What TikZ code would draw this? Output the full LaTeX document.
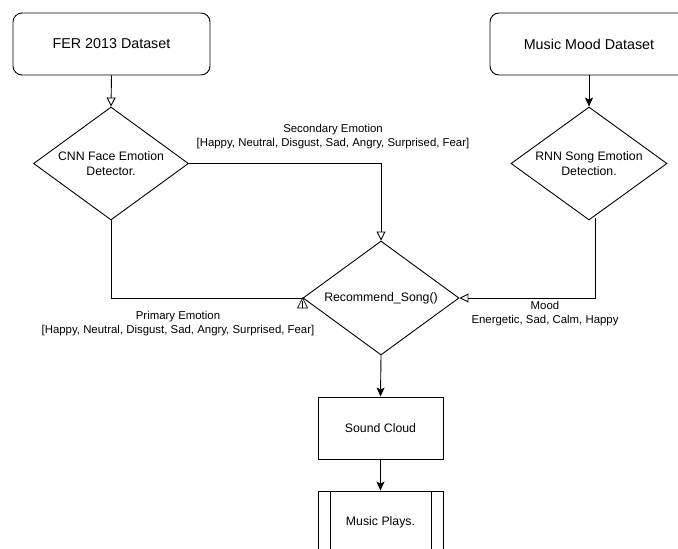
\documentclass[tikz,border=0pt]{standalone}
\usepackage{fontspec}
\setmainfont{Liberation Sans}
\usetikzlibrary{shapes.geometric,arrows.meta,calc}
\begin{document}
\begin{tikzpicture}[x=1pt,y=-1pt,
  line width=0.9pt,
  every node/.style={inner sep=0pt},
  title/.style={draw, rounded corners=9pt, minimum width=197pt, minimum height=62pt, font=\fontsize{14.3}{17}\selectfont},
  dia/.style={draw, diamond, aspect=1.38, minimum width=156pt, minimum height=113pt, align=center, font=\fontsize{12.3}{15}\selectfont},
  procbox/.style={draw, minimum width=125pt, minimum height=62pt, font=\fontsize{12.3}{15}\selectfont},
  lbl/.style={align=center, font=\fontsize{11.4}{14}\selectfont},
  openarrow/.style={-{Triangle[open,width=9pt,length=9pt]}},
  solidarrow/.style={-{Stealth[width=8pt,length=9pt,inset=2pt]}}
]
\useasboundingbox (0,0) rectangle (678,549);
\clip (0,0) rectangle (678,549);

\node[title] (fer) at (111.5,44) {FER 2013 Dataset};
\node[title, minimum width=198pt] (music) at (589,44) {Music Mood Dataset};

\node[dia, minimum width=155pt] (cnn) at (111,163.5) {CNN Face Emotion\\Detector.};
\node[dia] (rnn) at (589,163.5) {RNN Song Emotion\\Detection.};
\node[dia, minimum height=114pt] (rec) at (381,298) {Recommend\_Song()};

\node[procbox] (sound) at (380.5,428) {Sound Cloud};
\node[procbox] (plays) at (380.5,522) {Music Plays.};
\draw ($(plays.north west)+(13,0)$) -- ($(plays.south west)+(13,0)$);
\draw ($(plays.north east)+(-12,0)$) -- ($(plays.south east)+(-12,0)$);

\draw[openarrow] (fer.south) -- (cnn.north);
\draw[solidarrow] (music.south) -- (rnn.north);

\draw[openarrow] (cnn.east) -| (rec.north);
\draw (cnn.south) |- (rec.west);
\draw[line width=0.7pt] (rec.west) -- ++(-5,10) -- ++(10,0) -- cycle;
\draw[line width=0.7pt] ($(rec.west)+(0,3)$) -- ++(0,7);

\coordinate (rnnout) at (595,217.5);
\draw[openarrow] (rnnout) |- (rec.east);

\draw[solidarrow] (rec.south) -- (sound.north);
\draw[solidarrow] (sound.south) -- (plays.north);

\node[lbl] (seclbl) at (333,137) {Secondary Emotion\\{}[Happy, Neutral, Disgust, Sad, Angry, Surprised, Fear]};
\node[lbl] (primlbl) at (178,324) {Primary Emotion\\{}[Happy, Neutral, Disgust, Sad, Angry, Surprised, Fear]};
\node[lbl] (moodlbl) at (545,313.5) {Mood\\Energetic, Sad, Calm, Happy};
\end{tikzpicture}
\end{document}
